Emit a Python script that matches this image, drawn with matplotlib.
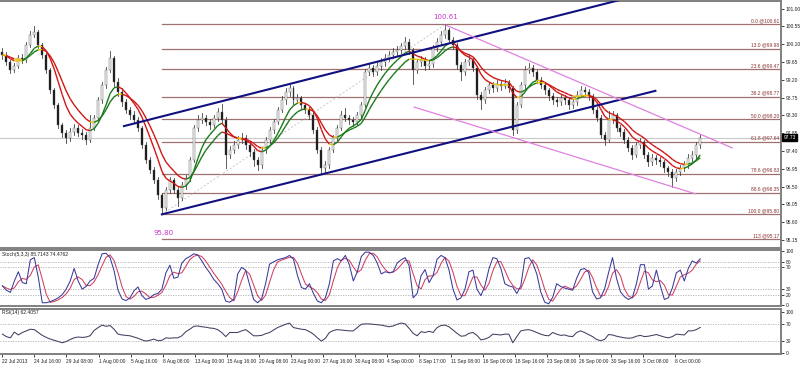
import numpy as np
import pandas as pd
import matplotlib
matplotlib.use("Agg")
import matplotlib.pyplot as plt
from matplotlib.collections import LineCollection

plt.rcParams["font.family"] = ["Liberation Sans", "DejaVu Sans"]

# ---------------- data ----------------
open0 = 99.90
closes = [
 99.83, 99.65, 99.45, 99.55, 99.75, 99.70, 100.08, 100.33, 100.41, 100.08,
 99.83, 99.45, 98.94, 98.56, 98.06, 97.86, 97.73, 97.88, 97.98, 97.86,
 97.81, 97.68, 97.98, 98.24, 98.69, 99.07, 99.45, 99.75, 99.15, 98.89,
 98.64, 98.44, 98.31, 98.19, 97.98, 97.55, 97.18, 96.92, 96.67, 96.29,
 95.96, 96.42, 96.67, 96.42, 96.22, 96.54, 96.72, 97.18, 97.98, 98.19,
 98.24, 98.14, 98.06, 98.24, 98.39, 98.19, 97.30, 97.43, 97.55, 97.68,
 97.73, 97.55, 97.38, 97.18, 97.05, 97.43, 97.68, 97.93, 98.14, 98.44,
 98.69, 98.89, 98.99, 98.69, 98.74, 98.56, 98.44, 98.31, 97.93, 97.43,
 96.97, 97.05, 97.43, 97.73, 97.98, 98.31, 98.24, 98.19, 98.14, 98.31,
 98.56, 99.40, 99.50, 99.40, 99.55, 99.65, 99.75, 99.83, 99.90, 99.95,
 100.05, 100.16, 99.95, 99.45, 99.65, 99.70, 99.55, 99.60, 100.00, 100.16,
 100.33, 100.46, 100.21, 100.08, 99.57, 99.40, 99.65, 99.70, 99.50, 98.82,
 98.69, 98.94, 99.07, 98.99, 99.10, 99.04, 99.12, 98.99, 97.93, 98.56,
 99.07, 99.45, 99.50, 99.40, 99.20, 99.07, 98.94, 98.79, 98.69, 98.64,
 98.74, 98.69, 98.56, 98.64, 98.82, 98.94, 98.89, 98.79, 98.44, 98.24,
 97.81, 97.68, 98.19, 98.31, 97.98, 97.88, 97.68, 97.48, 97.30, 97.55,
 97.63, 97.30, 97.12, 97.23, 97.18, 97.12, 96.97, 96.87, 96.72, 96.87,
 96.97, 97.05, 97.23, 97.30, 97.55, 97.73]
highs = [
 100.00, 99.90, 99.70, 99.62, 99.82, 99.85, 100.15, 100.42, 100.55, 100.46,
 100.12, 99.88, 99.50, 99.00, 98.62, 98.12, 97.92, 97.98, 98.08, 98.05,
 97.95, 97.88, 98.30, 98.32, 98.76, 99.14, 99.52, 99.92, 99.80, 99.25,
 98.98, 98.72, 98.52, 98.40, 98.26, 98.04, 97.62, 97.25, 97.00, 96.74,
 96.35, 96.50, 96.75, 96.72, 96.48, 96.62, 96.80, 97.25, 98.05, 98.32,
 98.35, 98.32, 98.22, 98.32, 98.48, 98.58, 98.25, 97.52, 97.65, 97.78,
 97.85, 97.80, 97.62, 97.45, 97.25, 97.50, 97.75, 98.00, 98.22, 98.52,
 98.78, 98.98, 99.10, 99.05, 98.85, 98.80, 98.62, 98.52, 98.38, 98.00,
 97.50, 97.15, 97.50, 97.80, 98.06, 98.40, 98.48, 98.32, 98.26, 98.38,
 98.64, 99.48, 99.60, 99.58, 99.65, 99.75, 99.85, 99.92, 100.00, 100.06,
 100.14, 100.28, 100.22, 100.00, 99.72, 99.80, 99.78, 99.70, 100.08, 100.25,
 100.42, 100.61, 100.52, 100.28, 100.14, 99.65, 99.72, 99.85, 99.78, 99.55,
 98.90, 99.02, 99.15, 99.14, 99.20, 99.18, 99.22, 99.20, 99.05, 98.64,
 99.14, 99.55, 99.62, 99.58, 99.45, 99.26, 99.14, 99.00, 98.86, 98.76,
 98.84, 98.82, 98.75, 98.72, 98.92, 99.05, 99.02, 98.96, 98.85, 98.52,
 98.30, 97.88, 98.40, 98.42, 98.36, 98.05, 97.95, 97.75, 97.55, 97.62,
 97.72, 97.68, 97.38, 97.32, 97.30, 97.26, 97.18, 97.03, 96.95, 96.95,
 97.05, 97.15, 97.32, 97.40, 97.62, 97.82]
lows = [
 99.72, 99.58, 99.38, 99.40, 99.50, 99.62, 99.66, 100.02, 100.28, 100.00,
 99.76, 99.38, 98.86, 98.48, 97.98, 97.75, 97.60, 97.66, 97.80, 97.78,
 97.70, 97.58, 97.62, 97.92, 98.18, 98.62, 99.00, 99.40, 99.05, 98.80,
 98.55, 98.36, 98.22, 98.10, 97.90, 97.48, 97.10, 96.85, 96.58, 96.20,
 95.80, 95.90, 96.35, 96.35, 96.00, 96.15, 96.45, 96.65, 97.12, 97.90,
 98.10, 98.05, 97.95, 98.00, 98.15, 98.10, 96.97, 97.22, 97.35, 97.48,
 97.60, 97.45, 97.28, 97.02, 96.92, 96.98, 97.35, 97.60, 97.85, 98.08,
 98.38, 98.60, 98.80, 98.60, 98.62, 98.45, 98.35, 98.22, 97.85, 97.35,
 96.84, 96.88, 96.98, 97.38, 97.66, 97.92, 98.15, 98.08, 98.02, 98.06,
 98.24, 98.50, 99.32, 99.30, 99.32, 99.45, 99.55, 99.68, 99.75, 99.82,
 99.88, 99.98, 99.85, 99.10, 99.38, 99.55, 99.45, 99.48, 99.52, 99.92,
 100.08, 100.25, 100.12, 99.98, 99.48, 99.20, 99.32, 99.58, 99.42, 98.72,
 98.45, 98.62, 98.86, 98.90, 98.92, 98.95, 98.98, 98.90, 97.81, 97.86,
 98.50, 99.00, 99.38, 99.30, 99.12, 98.98, 98.85, 98.70, 98.60, 98.55,
 98.56, 98.58, 98.46, 98.48, 98.56, 98.76, 98.80, 98.70, 98.36, 98.15,
 97.72, 97.55, 97.62, 98.12, 97.90, 97.78, 97.60, 97.40, 97.20, 97.25,
 97.48, 97.22, 97.02, 97.05, 97.08, 97.02, 96.88, 96.78, 96.49, 96.65,
 96.80, 96.90, 96.98, 97.15, 97.22, 97.48]

stoch_k = [
 36, 28, 24, 45, 62, 42, 40, 84, 88, 52, 5, 5, 7, 10, 14, 20, 30, 45, 68, 45,
 30, 35, 45, 50, 75, 95, 96, 88, 64, 28, 12, 9, 14, 27, 34, 18, 11, 14, 20, 22,
 30, 60, 74, 50, 52, 78, 86, 90, 95, 93, 82, 70, 60, 48, 40, 30, 8, 6, 11, 58,
 70, 65, 38, 11, 5, 12, 40, 76, 80, 84, 86, 88, 92, 85, 55, 33, 30, 40, 22, 8,
 5, 14, 40, 82, 86, 82, 92, 75, 45, 62, 90, 98, 98, 92, 78, 58, 62, 60, 62, 78,
 84, 88, 73, 14, 22, 55, 66, 42, 55, 85, 92, 88, 65, 30, 10, 14, 30, 62, 65, 30,
 18, 36, 67, 88, 86, 68, 40, 36, 34, 22, 36, 86, 88, 78, 58, 25, 6, 3, 15, 40,
 35, 32, 30, 28, 50, 66, 68, 61, 25, 12, 14, 30, 60, 88, 50, 25, 16, 11, 15, 40,
 75, 75, 30, 36, 65, 36, 11, 14, 32, 60, 65, 45, 68, 82, 78, 85.71]
stoch_readout = (85.7143, 74.4762)

rsi_vals = [
 46, 40, 37, 51, 44, 50, 54, 58, 57, 50, 43, 38, 34, 31, 28, 25, 28, 33, 37, 39,
 38, 39, 42, 55, 62, 68, 65, 67, 58, 46, 44, 43, 42, 39, 36, 32, 29, 31, 34, 30,
 31, 37, 36, 37, 37, 42, 52, 58, 65, 66, 64, 63, 61, 60, 57, 50, 40, 50, 50, 50,
 54, 57, 50, 42, 42, 43, 47, 50, 56, 62, 66, 70, 73, 62, 60, 58, 57, 52, 46, 37,
 29, 36, 50, 55, 57, 56, 55, 54, 54, 62, 70, 71, 71, 70, 69, 68, 66, 64, 66, 70,
 73, 71, 60, 48, 42, 52, 50, 53, 50, 62, 67, 68, 64, 56, 48, 41, 42, 48, 50, 43,
 32, 34, 38, 46, 45, 44, 46, 46, 25, 40, 54, 56, 57, 54, 50, 46, 43, 42, 50, 46,
 43, 44, 41, 40, 50, 54, 50, 45, 40, 33, 30, 33, 45, 44, 41, 39, 37, 36, 37, 41,
 43, 40, 41, 43, 45, 42, 39, 37, 40, 46, 45, 44, 54, 54, 57, 62.41]
rsi_readout = 62.4057

fib_high = 100.61
fib_low = 95.80
fib_ratios = [0.0, 13.0, 23.6, 38.2, 50.0, 61.8, 78.6, 88.6, 100.0, 113.0]
fib_names = ["0.0", "13.0", "23.6", "38.2", "50.0", "61.8", "78.6", "88.6", "100.0", "113"]

price_ticks = [101.00, 100.55, 100.10, 99.65, 99.20, 98.75, 98.30, 97.85,
               97.40, 96.95, 96.50, 96.05, 95.60, 95.15]
date_labels = ["22 Jul 2013", "24 Jul 16:00", "29 Jul 08:00", "1 Aug 00:00",
               "5 Aug 16:00", "8 Aug 08:00", "13 Aug 00:00", "15 Aug 16:00",
               "20 Aug 08:00", "23 Aug 00:00", "27 Aug 16:00", "30 Aug 08:00",
               "4 Sep 00:00", "8 Sep 17:00", "11 Sep 08:00", "16 Sep 00:00",
               "18 Sep 16:00", "23 Sep 08:00", "26 Sep 00:00", "30 Sep 16:00",
               "3 Oct 08:00", "8 Oct 00:00"]

# trend lines as (bar, price) anchor pairs
up_ch_upper = [(30.5, 98.03), (155.0, 101.22)]
up_ch_lower = [(40.0, 95.80), (163.75, 98.92)]
dn_ch_upper = [(111.25, 100.58), (183.0, 97.48)]
dn_ch_lower = [(103.25, 98.51), (173.75, 96.32)]
fib_anchor_low = (40.0, 95.80)
fib_anchor_high = (111.25, 100.61)

# ---------------- figure ----------------
W, H = 800, 366
fig = plt.figure(figsize=(W / 100, H / 100), dpi=100)
fig.patch.set_facecolor("white")
axw = 781 / W
ax = fig.add_axes([0, 1 - 248 / H, axw, 247 / H])
ax_s = fig.add_axes([0, 1 - 306 / H, axw, 56 / H], sharex=ax)
ax_r = fig.add_axes([0, 1 - 354 / H, axw, 45 / H], sharex=ax)

n = len(closes)
idx = np.arange(n)
opens = [open0] + closes[:-1]
xmax = 781 / 4
FS = 3.5
tick_col = "#222222"
spine_col = "#808080"
YLO, YHI = 94.95, 101.19

for a in (ax, ax_s, ax_r):
    a.set_facecolor("white")
    a.spines["left"].set_visible(False)
    for s in ("top", "bottom", "right"):
        a.spines[s].set_color(spine_col)
        a.spines[s].set_linewidth(1.4)
    a.yaxis.tick_right()
    a.tick_params(axis="y", direction="out", length=2, width=0.6, pad=1.2,
                  labelsize=FS, colors=tick_col)
    a.tick_params(axis="x", bottom=False, labelbottom=False)
    a.set_xlim(-0.6, xmax)

# ---- main price panel ----
ax.set_ylim(YLO, YHI)
ax.set_yticks(price_ticks)
ax.set_yticklabels([f"{t:.2f}" for t in price_ticks])

# fib lines
fib_levels = [fib_high - r / 100 * (fib_high - fib_low) for r in fib_ratios]
for name, lv in zip(fib_names, fib_levels):
    ax.plot([fib_anchor_low[0], xmax], [lv, lv], color="#a07070", lw=0.9, zorder=1)
    ax.text(xmax - 0.5, lv + 0.025, f"{name} @{lv:.2f}", fontsize=3.5,
            color="#8b2f2f", ha="right", va="bottom", zorder=6)

# bid line
ax.axhline(closes[-1], color="#c8c8c8", lw=0.8, zorder=1)

# fib connector (dotted)
ax.plot([fib_anchor_low[0], fib_anchor_high[0]], [fib_anchor_low[1], fib_anchor_high[1]],
        color="#c8c8c8", lw=0.7, ls=(0, (2, 2)), zorder=1)

# candles
for i in range(n):
    o, c = opens[i], closes[i]
    ax.plot([i, i], [lows[i], highs[i]], color="#444444", lw=0.6, zorder=3)
    bull = c >= o
    lo, hi = min(o, c), max(o, c)
    ax.bar(i, max(hi - lo, 0.012), bottom=lo, width=0.5,
           color="#f4f4f4" if bull else "#111111",
           edgecolor="#555555", linewidth=0.3, zorder=4)

# moving averages coloured by slope
cs = pd.Series(closes)
for span in (5, 9):
    ma = cs.ewm(span=span, adjust=False).mean().ewm(span=3, adjust=False).mean().values
    segs = [[(i, ma[i]), (i + 1, ma[i + 1])] for i in range(n - 1)]
    cols = []
    for i in range(n - 1):
        dd = ma[i + 1] - ma[i]
        if dd > 0.02:
            cols.append("#1a7a1a")
        elif dd < -0.02:
            cols.append("#d01515")
        else:
            cols.append("#e8c000")
    ax.add_collection(LineCollection(segs, colors=cols, linewidths=1.0, zorder=5))

# channels
for (p0, p1), col, lw in [(up_ch_upper, "#101080", 1.5), (up_ch_lower, "#101080", 1.5),
                          (dn_ch_upper, "#e080e0", 0.9), (dn_ch_lower, "#e080e0", 0.9)]:
    ax.plot([p0[0], p1[0]], [p0[1], p1[1]], color=col, lw=lw, zorder=5)

# extreme labels
ax.annotate(f"{fib_high:.2f}", xy=fib_anchor_high, xytext=(0, 3), textcoords="offset points",
            ha="center", va="bottom", fontsize=5, color="#cc33cc", family="DejaVu Sans")
ax.annotate(f"{fib_low:.2f}", xy=fib_anchor_low, xytext=(1, -11), textcoords="offset points",
            ha="center", va="top", fontsize=5, color="#cc33cc", family="DejaVu Sans")

# last price box
ax.text(1.003, (closes[-1] - YLO) / (YHI - YLO), f"{closes[-1]:.2f}",
        transform=ax.transAxes, fontsize=FS, color="white", ha="left", va="center",
        bbox=dict(boxstyle="square,pad=0.2", fc="black", ec="black"), zorder=10,
        clip_on=False)

# ---- stochastic ----
k = pd.Series(stoch_k)
d = k.rolling(3, min_periods=1).mean()
ax_s.set_ylim(-1, 102)
for lv in (80, 70, 30, 20):
    ax_s.axhline(lv, color="#b0b0b0", lw=0.6, ls=(0, (1.5, 1.5)))
ax_s.plot(idx, d.values, color="#d04060", lw=0.75)
ax_s.plot(idx, k.values, color="#3a3a9a", lw=0.75)
ax_s.set_yticks([100, 80, 70, 30, 20, 0])
ax_s.set_yticklabels(["100", "80", "70", "30", "20", "0"])
ax_s.text(0.003, 0.97, f"Stoch(5,3,3) {stoch_readout[0]:.4f} {stoch_readout[1]:.4f}",
          transform=ax_s.transAxes, fontsize=3.6, color="#222222", va="top", ha="left")

# ---- RSI ----
ax_r.set_ylim(-2.4, 107.3)
for lv in (70, 30):
    ax_r.axhline(lv, color="#b0b0b0", lw=0.6, ls=(0, (1.5, 1.5)))
ax_r.plot(idx, rsi_vals, color="#404060", lw=0.75)
ax_r.set_yticks([100, 70, 30, 0])
ax_r.set_yticklabels(["100", "70", "30", "0"])
ax_r.text(0.003, 0.97, f"RSI(14) {rsi_readout:.4f}", transform=ax_r.transAxes,
          fontsize=3.6, color="#222222", va="top", ha="left")

# date labels
date_pos = [i * 8.035 for i in range(len(date_labels))]
ax_r.tick_params(axis="x", bottom=True, labelbottom=True, direction="out", length=2,
                 width=0.6, labelsize=FS, colors=tick_col, pad=1.5)
ax_r.set_xticks(date_pos)
ax_r.set_xticklabels(date_labels, ha="left")

fig.savefig("out.png", dpi=100, facecolor="white")
